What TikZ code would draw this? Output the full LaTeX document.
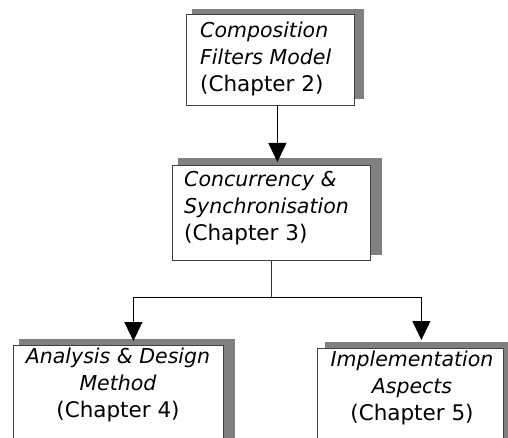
\documentclass[tikz,border=0pt]{standalone}
\usepackage{fontspec}
\setmainfont{DejaVu Sans}
\usetikzlibrary{arrows.meta,calc}
\definecolor{shadegray}{HTML}{808080}
\newcommand{\chap}[1]{{\fontsize{21.5}{27}\selectfont #1}}
\begin{document}
\begin{tikzpicture}[x=1pt,y=-1pt,
  box/.style={draw=black!75, line width=0.8pt, fill=white, inner sep=0pt, anchor=north west},
  shadow/.style={fill=shadegray, draw=none},
  txt/.style={inner sep=0pt, font=\fontsize{20.5}{27}\selectfont},
  conn/.style={draw=black!80, line width=1.2pt},
  arr/.style={draw=black, line width=1.2pt, -{Triangle[width=18pt,length=19pt]}}]
\useasboundingbox (0,0) rectangle (508,438);
\clip (0,0) rectangle (508,438);
% shadows
\fill[shadow] (192,9) rectangle (364,99);
\fill[shadow] (178,158) rectangle (382,255);
\fill[shadow] (19,339) rectangle (235,460);
\fill[shadow] (325,342) rectangle (508,460);
% boxes
\node[box, minimum width=168pt, minimum height=91pt] (b1) at (186,14) {};
\node[box, minimum width=198pt, minimum height=95pt] (b2) at (172,165) {};
\node[box, minimum width=210pt, minimum height=105pt] (b3) at (13,345) {};
\node[box, minimum width=186pt, minimum height=102pt] (b4) at (317,348) {};
% texts
\node[txt, anchor=north west, align=left] (t1) at (200,22) {\textit{Composition}\\\textit{Filters Model}\\\chap{(Chapter 2)}};
\node[txt, anchor=north west, align=left] (t2) at (184,171) {\textit{Concurrency \&}\\\textit{Synchronisation}\\\chap{(Chapter 3)}};
\node[txt, anchor=north, align=center] (t3) at (118,348) {\textit{Analysis \& Design}\\\textit{Method}\\\chap{(Chapter 4)}};
\node[txt, anchor=north, align=center] (t4) at (412,351) {\textit{Implementation}\\\textit{Aspects}\\\chap{(Chapter 5)}};
% connectors
\draw[arr] ($(b1.south)+(7,0)$) -- ($(b2.north)+(6,-3)$);
\coordinate (j) at ($(b2.south)+(0,37)$);
\draw[conn] (b2.south) -- (j);
\draw[arr] (j) -| ($(b3.north)+(15,-4)$);
\draw[arr] (j) -| ($(b4.north)+(11,-8)$);
\end{tikzpicture}
\end{document}
